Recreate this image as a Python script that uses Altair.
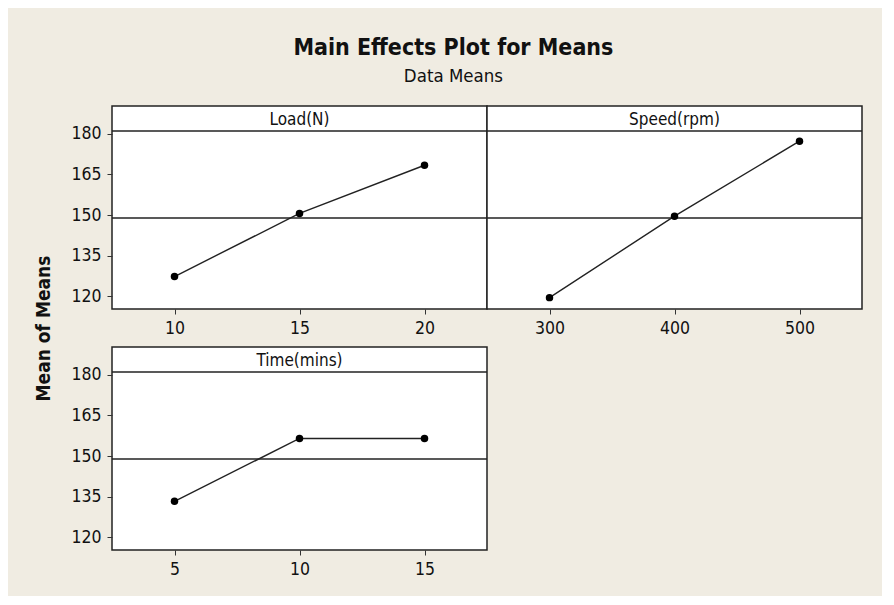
import altair as alt
import pandas as pd

# ---- data ----
FACTORS = ["Load(N)", "Speed(rpm)", "Time(mins)"]
LOAD_LEVELS = [10, 15, 20]
LOAD_MEANS = [127.3, 150.6, 168.4]
SPEED_LEVELS = [300, 400, 500]
SPEED_MEANS = [119.5, 149.6, 177.3]
TIME_LEVELS = [5, 10, 15]
TIME_MEANS = [133.3, 156.5, 156.5]
GRAND_MEAN = 148.9
Y_TICKS = [120, 135, 150, 165, 180]

# ---- style / layout ----
FONT = "DejaVu Sans Condensed, DejaVu Sans, sans-serif"
BG = "#F0ECE2"
INK = "#111111"
W, H = 375, 203
STRIP = 25
ROW_GAP = 38
Y_DOMAIN = [115.3, 190.3]


def panel(name, levels, means, xdomain, show_y, y_title=False):
    df = pd.DataFrame({"level": levels, "mean": means})
    x = alt.X(
        "level:Q",
        scale=alt.Scale(domain=xdomain, nice=False, zero=False),
        axis=alt.Axis(values=levels, labelFontSize=17.5, labelPadding=5),
        title=None,
    )
    yscale = alt.Scale(domain=Y_DOMAIN, nice=False, zero=False)
    if show_y and y_title:
        y = alt.Y("mean:Q", scale=yscale,
                  axis=alt.Axis(values=Y_TICKS, labelFontSize=17.5, labelPadding=6,
                                title="Mean of Means", titleFont=FONT, titleFontSize=19,
                                titleFontWeight="bold", titleColor=INK, titleAngle=270,
                                titleAlign="center", titleBaseline="middle",
                                titleX=-69, titleY=H + ROW_GAP / 2))
    elif show_y:
        y = alt.Y("mean:Q", scale=yscale,
                  axis=alt.Axis(values=Y_TICKS, labelFontSize=17.5, labelPadding=6),
                  title=None)
    else:
        y = alt.Y("mean:Q", scale=yscale, axis=None)

    base = alt.Chart(df)
    line = base.mark_line(color="#222222", strokeWidth=1.4).encode(x=x, y=y)
    pts = base.mark_circle(size=56, color="#000000", opacity=1).encode(x=x, y=y)

    gm_df = pd.DataFrame({"mean": [GRAND_MEAN]})
    gm = alt.Chart(gm_df).mark_rule(color="#222222", strokeWidth=1.4).encode(y=y)

    strip_line = alt.Chart(gm_df).mark_rule(color="#222222", strokeWidth=1.6).encode(
        y=alt.value(STRIP)
    )
    strip_text = alt.Chart(gm_df).mark_text(
        font=FONT, fontSize=17, color=INK, baseline="middle", align="center"
    ).encode(x=alt.value(W / 2), y=alt.value(STRIP / 2 + 1), text=alt.value(name))

    return alt.layer(gm, line, pts, strip_line, strip_text).properties(width=W, height=H)


p1 = panel(FACTORS[0], LOAD_LEVELS, LOAD_MEANS, [7.5, 22.5], True, y_title=True)
p2 = panel(FACTORS[1], SPEED_LEVELS, SPEED_MEANS, [250, 550], False)
p3 = panel(FACTORS[2], TIME_LEVELS, TIME_MEANS, [2.5, 17.5], True)

chart = alt.concat(
    p1, p2, p3, columns=2,
    spacing={"row": ROW_GAP, "column": 0}, bounds="flush",
).properties(
    title=alt.TitleParams(
        text="Main Effects Plot for Means",
        subtitle="Data Means",
        font=FONT, fontSize=23, fontWeight="bold", color=INK,
        subtitleFont=FONT, subtitleFontSize=18.5, subtitleColor=INK,
        subtitlePadding=7, anchor="middle", offset=20, dx=5,
    ),
    padding={"left": 25, "top": 28, "right": 18, "bottom": 17},
).configure(background=BG).configure_view(
    stroke="#222222", strokeWidth=1.5, fill="white"
).configure_axis(
    labelFont=FONT, labelColor=INK, tickColor="#333333", tickSize=5,
    domain=False, grid=False,
)

chart.save("out.html", embed_options={"renderer": "svg", "actions": False})
